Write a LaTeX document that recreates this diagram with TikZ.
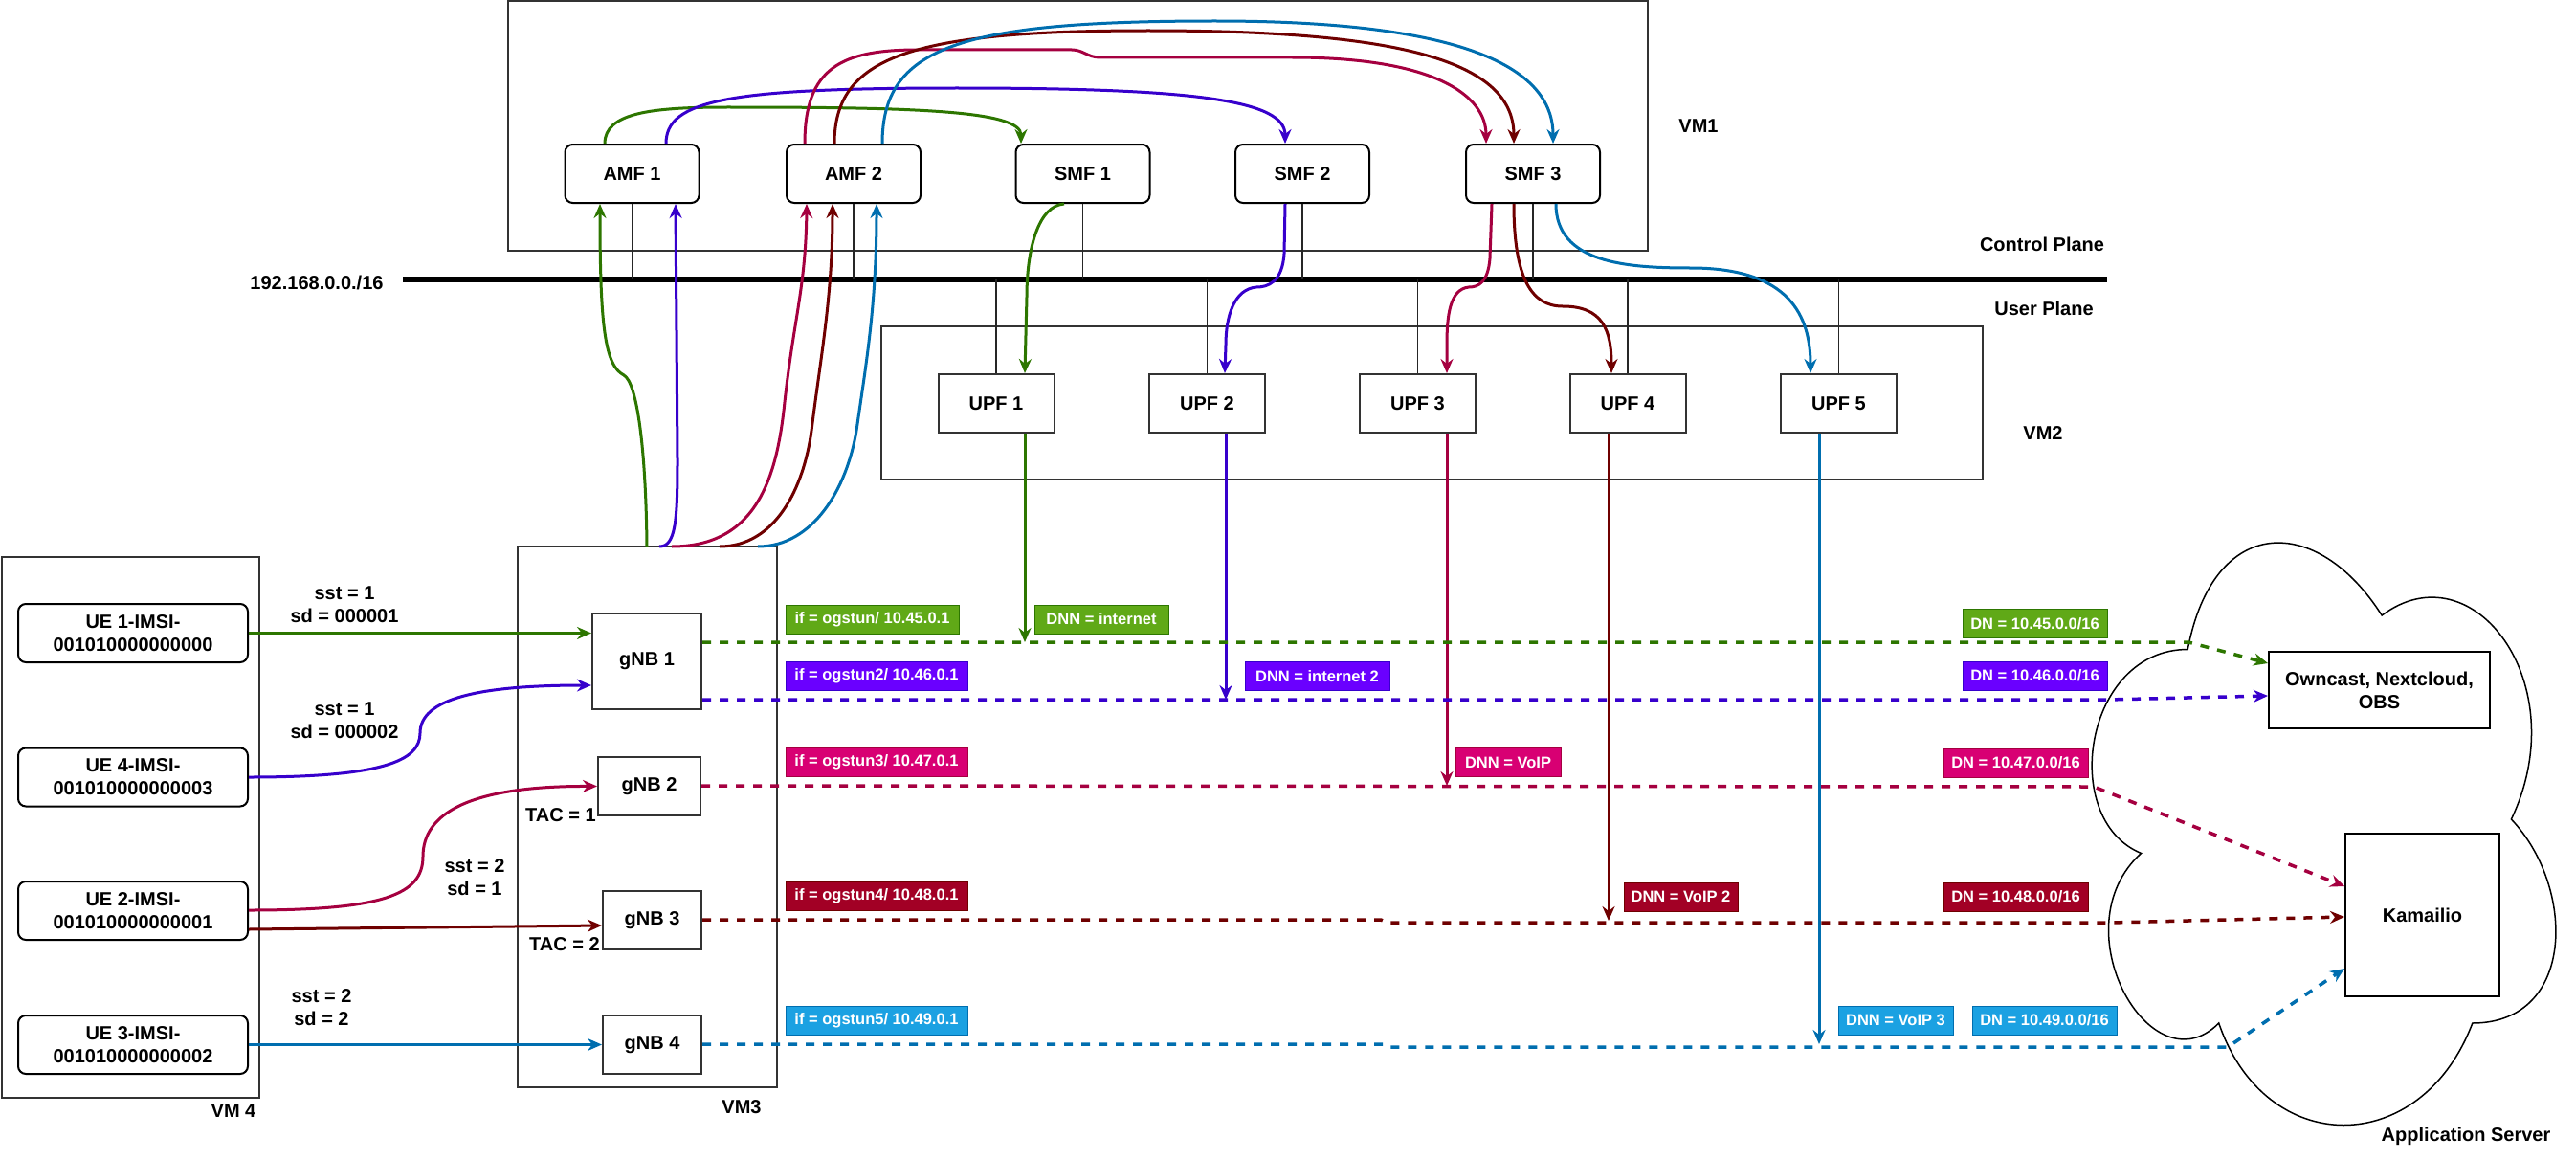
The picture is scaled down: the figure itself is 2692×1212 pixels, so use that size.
\documentclass[tikz,border=0pt]{standalone}
\usepackage{fontspec}
\setmainfont{Liberation Sans}
\usetikzlibrary{arrows.meta}

\definecolor{cGreen}{HTML}{2D7600}
\definecolor{cPurple}{HTML}{3700CC}
\definecolor{cCrimson}{HTML}{A50040}
\definecolor{cMaroon}{HTML}{6F0000}
\definecolor{cBlue}{HTML}{006EAF}
\definecolor{fGreen}{HTML}{60A917}
\definecolor{fPurple}{HTML}{6A00FF}
\definecolor{fCrimson}{HTML}{D80073}
\definecolor{fMaroon}{HTML}{A20025}
\definecolor{fBlue}{HTML}{1BA1E2}
\definecolor{edge}{HTML}{333333}

\tikzset{
  base/.style={font=\fontsize{20}{24}\selectfont\bfseries},
  nf/.style={base, draw=black, line width=2pt, rounded corners=8pt, fill=white,
    minimum width=140pt, minimum height=61pt, inner sep=0pt, align=center},
  ue/.style={nf, minimum width=240pt},
  sq/.style={base, draw=edge, line width=2pt, fill=white, inner sep=0pt, align=center},
  upf/.style={sq, minimum width=121pt, minimum height=61pt},
  vm/.style={draw=edge, line width=2pt, inner sep=0pt, outer sep=0pt},
  txt/.style={base, align=center, inner sep=0pt},
  tag/.style={font=\fontsize{16.5}{19}\selectfont\bfseries, text=white, line width=1pt,
    minimum height=30pt, inner sep=0pt},
  link/.style={line width=1.5pt, draw=black!85},
  tip/.style={-{Stealth[length=15pt,width=13pt,inset=5pt]}},
  flow/.style={tip, line width=3pt},
  tunnel/.style={tip, line width=3.5pt, dash pattern=on 9pt off 9pt},
}

\begin{document}
\begin{tikzpicture}[x=1pt,y=-1pt]
\useasboundingbox (0,0) rectangle (2692,1212);

% ---------- virtual machines ----------
\node[vm, minimum width=1191pt, minimum height=261pt] (vm1) at (1126.5,131.5) {};
\node[vm, minimum width=1151pt, minimum height=160pt] (vm2) at (1496.5,421) {};
\node[vm, minimum width=271pt, minimum height=565pt] (vm3) at (676.5,853.5) {};
\node[vm, minimum width=269pt, minimum height=565pt] (vm4) at (136.5,864.5) {};

% ---------- application server cloud ----------
\begin{scope}[shift={(2151,501)}, x=541pt, y=-710pt]
  \draw[line width=1.5pt] (0.25,0.25)
    .. controls (0.05,0.25) and (0,0.5) .. (0.16,0.55)
    .. controls (0,0.66) and (0.18,0.9) .. (0.31,0.8)
    .. controls (0.4,1) and (0.7,1) .. (0.8,0.8)
    .. controls (1,0.8) and (1,0.6) .. (0.875,0.5)
    .. controls (1,0.3) and (0.8,0.1) .. (0.625,0.2)
    .. controls (0.5,0.05) and (0.3,0.05) .. (0.25,0.25) -- cycle;
\end{scope}

% ---------- plain labels ----------
\node[txt] (lvm1) at (1775,132) {VM1};
\node[txt] (lcp) at (2134,255) {Control Plane};
\node[txt] (lup) at (2136,322) {User Plane};
\node[txt] (lvm2) at (2135,453) {VM2};
\node[txt] (lnet) at (331,295) {192.168.0.0./16};
\node[txt] (lvm4) at (244,1161) {VM 4};
\node[txt] (lvm3) at (775,1157) {VM3};
\node[txt] (las) at (2577,1187) {Application Server};

% ---------- control plane functions ----------
\node[nf] (amf1) at (660.5,181.5) {AMF 1};
\node[nf] (amf2) at (892,181.5) {AMF 2};
\node[nf] (smf1) at (1131.5,181.5) {SMF 1};
\node[nf] (smf2) at (1361,181.5) {SMF 2};
\node[nf] (smf3) at (1602,181.5) {SMF 3};

% ---------- user plane functions ----------
\node[upf] (upf1) at (1041,421.5) {UPF 1};
\node[upf] (upf2) at (1261.5,421.5) {UPF 2};
\node[upf] (upf3) at (1481.5,421.5) {UPF 3};
\node[upf] (upf4) at (1701,421.5) {UPF 4};
\node[upf] (upf5) at (1921.5,421.5) {UPF 5};

% ---------- UEs and gNBs ----------
\node[ue] (ue1) at (139,661.5) {UE 1-IMSI-\\001010000000000};
\node[ue] (ue4) at (139,812) {UE 4-IMSI-\\001010000000003};
\node[ue] (ue2) at (139,951.5) {UE 2-IMSI-\\001010000000001};
\node[ue] (ue3) at (139,1091.5) {UE 3-IMSI-\\001010000000002};

\node[sq, minimum width=114pt, minimum height=100pt] (gnb1) at (676,691) {gNB 1};
\node[sq, minimum width=107pt, minimum height=61pt] (gnb2) at (678.5,821.5) {gNB 2};
\node[sq, minimum width=103pt, minimum height=61pt] (gnb3) at (681.5,961.5) {gNB 3};
\node[sq, minimum width=103pt, minimum height=61pt] (gnb4) at (681.5,1091.5) {gNB 4};

% ---------- application servers ----------
\node[sq, draw=black, minimum width=231pt, minimum height=80pt] (owncast) at (2486.5,721) {Owncast, Nextcloud,\\OBS};
\node[sq, draw=black, minimum width=161pt, minimum height=170pt] (kamailio) at (2531.5,956) {Kamailio};

% ---------- slice / tracking area labels ----------
\node[txt] (s1) at (360,632) {sst = 1\\sd = 000001};
\node[txt] (s2) at (360,753) {sst = 1\\sd = 000002};
\node[txt] (s3) at (496,917) {sst = 2\\sd = 1};
\node[txt] (s4) at (336,1053) {sst = 2\\sd = 2};
\node[txt] (tac1) at (586,852) {TAC = 1};
\node[txt] (tac2) at (590,987) {TAC = 2};

% ---------- network bus and attachments ----------
\coordinate (busL) at (421,292);
\coordinate (busR) at (2202,292);
\draw[line width=5.5pt] (busL) -- (busR);
\foreach \n in {amf1,amf2,smf1,smf2,smf3}
  \draw[link] (\n.south) -- (\n.south |- busL);
\foreach \n in {upf1,upf2,upf3,upf4,upf5}
  \draw[link] (\n.north |- busL) -- (\n.north);

% ---------- AMF to SMF ----------
\draw[flow, cGreen] (amf1.north -| 632,0) .. controls (632,118) and (680,112) .. (760,112)
  .. controls (950,112) and (1067,115) .. (smf1.north -| 1067,0);
\draw[flow, cPurple] (amf1.north -| 696,0) .. controls (696,105) and (760,92) .. (1000,92)
  .. controls (1250,92) and (1343,105) .. (smf2.north -| 1343,0);
\draw[flow, cCrimson] (amf2.north -| 841,0) .. controls (841,70) and (880,52) .. (960,52)
  -- (1120,52) .. controls (1132,52) and (1136,60) .. (1150,60) -- (1350,60)
  .. controls (1500,60) and (1553,100) .. (smf3.north -| 1553,0);
\draw[flow, cMaroon] (amf2.north -| 872,0) .. controls (872,60) and (950,32) .. (1200,32)
  .. controls (1450,32) and (1582,60) .. (smf3.north -| 1582,0);
\draw[flow, cBlue] (amf2.north -| 922,0) .. controls (922,50) and (1000,22) .. (1270,22)
  .. controls (1500,22) and (1623,60) .. (smf3.north -| 1623,0);

% ---------- SMF to UPF ----------
\draw[flow, cGreen] (smf1.south -| 1112,0) .. controls (1085,215) and (1073,260) .. (1073,310)
  -- (upf1.north -| 1071,0);
\draw[flow, cPurple] (smf2.south -| 1343,0) -- (1342,265) .. controls (1340,295) and (1325,300) .. (1313,300)
  .. controls (1290,302) and (1281,330) .. (1281,360) -- (upf2.north -| 1280,0);
\draw[flow, cCrimson] (smf3.south -| 1559,0) -- (1557,270) .. controls (1555,295) and (1545,300) .. (1535,300)
  .. controls (1515,302) and (1512,330) .. (1512,360) -- (upf3.north -| 1512,0);
\draw[flow, cMaroon] (smf3.south -| 1582,0) .. controls (1582,290) and (1600,320) .. (1633,320)
  .. controls (1675,320) and (1684,345) .. (upf4.north -| 1684,0);
\draw[flow, cBlue] (smf3.south -| 1626,0) .. controls (1626,275) and (1700,280) .. (1767,280)
  .. controls (1870,280) and (1892,330) .. (upf5.north -| 1892,0);

% ---------- gNBs to AMFs ----------
\draw[flow, cGreen] (vm3.north -| 676,0) .. controls (675,470) and (666,400) .. (652,392)
  .. controls (632,382) and (627,340) .. (amf1.south -| 627,0);
\draw[flow, cPurple] (vm3.north -| 689,0) .. controls (706,571) and (708,545) .. (708,480)
  -- (amf1.south -| 706,0);
\draw[flow, cCrimson] (vm3.north -| 702,0) .. controls (790,571) and (812,500) .. (820,420)
  .. controls (830,330) and (842,300) .. (amf2.south -| 843,0);
\draw[flow, cMaroon] (vm3.north -| 752,0) .. controls (810,571) and (840,510) .. (848,450)
  .. controls (858,370) and (870,310) .. (amf2.south -| 870,0);
\draw[flow, cBlue] (vm3.north -| 792,0) .. controls (850,571) and (885,510) .. (895,450)
  .. controls (905,380) and (916,320) .. (amf2.south -| 916,0);

% ---------- UEs to gNBs ----------
\draw[flow, cGreen] (ue1.east) -- (gnb1.west |- ue1.east);
\draw[flow, cPurple] (ue4.east) .. controls (400,812) and (439,795) .. (439,766)
  .. controls (439,730) and (500,716) .. (gnb1.west |- 0,716);
\draw[flow, cCrimson] (ue2.east |- 0,951) .. controls (400,951) and (442,935) .. (442,895)
  .. controls (442,850) and (490,821) .. (gnb2.west);
\draw[flow, cMaroon] (ue2.east |- 0,971) -- (gnb3.west |- 0,967);
\draw[flow, cBlue] (ue3.east) -- (gnb4.west |- ue3.east);

% ---------- UPFs to the data network tunnels ----------
\coordinate (t1) at (1071,671);
\coordinate (t2) at (1281,731);
\coordinate (t3) at (1512,821);
\coordinate (t4) at (1681,962);
\coordinate (t5) at (1901,1091);
\draw[flow, cGreen] (upf1.south -| t1) -- (t1);
\draw[flow, cPurple] (upf2.south -| t2) -- (t2);
\draw[flow, cCrimson] (upf3.south -| t3) -- (t3);
\draw[flow, cMaroon] (upf4.south -| t4) -- (t4);
\draw[flow, cBlue] (upf5.south -| t5) -- (t5);

% ---------- tunnels from gNBs to application servers ----------
\draw[tunnel, cGreen] (gnb1.east |- 0,671) -- (2287,671) -- (owncast.west |- 0,693);
\draw[tunnel, cPurple] (gnb1.east |- 0,731) -- (2202,731) -- (owncast.west |- 0,727);
\draw[tunnel, cCrimson] (gnb2.east |- 0,821) -- (2188,822) -- (kamailio.west |- 0,926);
\draw[tunnel, cMaroon] (gnb3.east |- 0,961) -- (1443,961) -- (1450,964) -- (2205,964)
  -- (kamailio.west |- 0,958);
\draw[tunnel, cBlue] (gnb4.east |- 0,1091) -- (1446,1091) -- (1452,1094) -- (2328,1094)
  -- (kamailio.west |- 0,1012);

% ---------- interface / DNN / DN tags ----------
\node[tag, fill=fGreen, draw=cGreen, minimum width=181pt] (if1) at (911.5,647) {if = ogstun/ 10.45.0.1};
\node[tag, fill=fPurple, draw=cPurple, minimum width=190pt] (if2) at (916,706.5) {if = ogstun2/ 10.46.0.1};
\node[tag, fill=fCrimson, draw=cCrimson, minimum width=190pt] (if3) at (916,796.5) {if = ogstun3/ 10.47.0.1};
\node[tag, fill=fMaroon, draw=cMaroon, minimum width=190pt] (if4) at (916,936.5) {if = ogstun4/ 10.48.0.1};
\node[tag, fill=fBlue, draw=cBlue, minimum width=190pt] (if5) at (916,1066.5) {if = ogstun5/ 10.49.0.1};

\node[tag, fill=fGreen, draw=cGreen, minimum width=140pt] (dnn1) at (1151,647) {DNN = internet};
\node[tag, fill=fPurple, draw=cPurple, minimum width=151pt] (dnn2) at (1376.5,706.5) {DNN = internet 2};
\node[tag, fill=fCrimson, draw=cCrimson, minimum width=110pt] (dnn3) at (1576,796.5) {DNN = VoIP};
\node[tag, fill=fMaroon, draw=cMaroon, minimum width=119pt] (dnn4) at (1756.5,937) {DNN = VoIP 2};
\node[tag, fill=fBlue, draw=cBlue, minimum width=120pt] (dnn5) at (1981,1066) {DNN = VoIP 3};

\node[tag, fill=fGreen, draw=cGreen, minimum width=151pt] (dn1) at (2126.5,651.5) {DN = 10.45.0.0/16};
\node[tag, fill=fPurple, draw=cPurple, minimum width=151pt] (dn2) at (2126.5,706) {DN = 10.46.0.0/16};
\node[tag, fill=fCrimson, draw=cCrimson, minimum width=151pt] (dn3) at (2106.5,797) {DN = 10.47.0.0/16};
\node[tag, fill=fMaroon, draw=cMaroon, minimum width=151pt] (dn4) at (2106.5,937) {DN = 10.48.0.0/16};
\node[tag, fill=fBlue, draw=cBlue, minimum width=151pt] (dn5) at (2136.5,1066) {DN = 10.49.0.0/16};

\end{tikzpicture}
\end{document}
